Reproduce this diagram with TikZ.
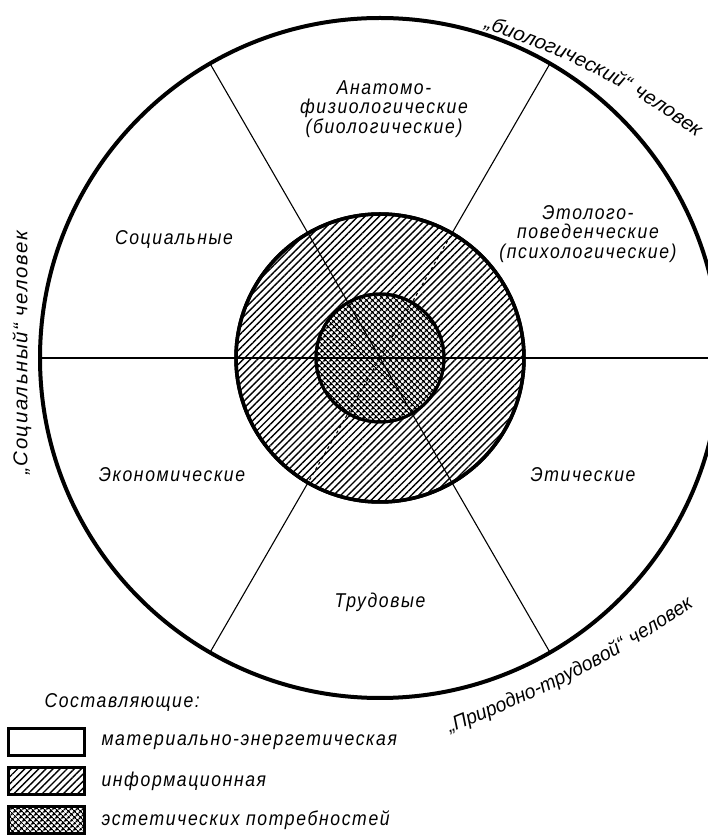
\documentclass[tikz,border=0pt]{standalone}
\usepackage{fontspec}
\setmainfont{Liberation Sans}
\newfontfamily\gostfont{Liberation Sans}[LetterSpace=8, FakeStretch=0.88]
\newfontfamily\gostwide{Liberation Sans}[LetterSpace=8, FakeStretch=1.02]
\newfontfamily\gostmid{Liberation Sans}[LetterSpace=8, FakeStretch=0.96]
\newcommand{\lblfont}{\gostfont\itshape\fontsize{20}{19.5}\selectfont}
\newcommand{\arcfont}{\gostwide\itshape\fontsize{20}{19.5}\selectfont}
\newcommand{\arcfontb}{\gostmid\itshape\fontsize{20}{19.5}\selectfont}
\usetikzlibrary{positioning, patterns.meta, decorations.text}

\begin{document}
\begin{tikzpicture}[
  x=1pt, y=1pt,
  every node/.style={font=\lblfont, align=center},
  ring/.style={circle, draw, inner sep=0pt, outer sep=0pt},
  spoke/.style={line width=1.1pt},
  hatchfill/.style={pattern={Lines[angle=45, distance=5pt, line width=1.4pt]}},
  crossfill/.style={pattern={Hatch[angle=45, distance=4pt, line width=1.5pt]}},
  legbox/.style={draw, line width=3pt, minimum width=76pt, minimum height=27pt, inner sep=0pt},
  arclabel/.style={decorate, decoration={text along path, text align=left}}
]
\useasboundingbox (0,0) rectangle (708,836);

% Circles
\coordinate (c) at (380,478);
\node[ring, line width=4pt, minimum size=680pt] (outer) at (c) {};
\node[ring, hatchfill, line width=3.5pt, minimum size=288pt] (mid) at (c) {};
\node[ring, preaction={fill=white}, crossfill, line width=3pt, minimum size=128pt] (inner) at (c) {};

% Spokes
\foreach \a in {0,120,180,300}
  \draw[spoke] (c) -- (outer.\a);
\foreach \a in {60,240} {
  \draw[spoke] (mid.\a) -- (outer.\a);
  \draw[spoke, dashed] (c) -- (mid.\a);
}
\draw[line width=3.5pt] (mid) circle (144);
\draw[line width=3pt] (inner) circle (64);

% Sectors
\node (anat) at (384,727) {Анатомо-\\физиологические\\(биологические)};
\node (soc) at (174,596) {Социальные};
\node (etol) at (588,602) {Этолого-\\поведенческие\\(психологические)};
\node (econ) at (172,361) {Экономические};
\node (etic) at (583,361) {Этические};
\node (trud) at (380,234) {Трудовые};

% Outer labels
\path[arclabel, decoration={text={|\arcfont|„биологический“ человек}}]
  (484,808) to[bend left=10] (740,664);
\path[arclabel, decoration={text={|\arcfontb|„Природно-трудовой“ человек}}]
  (450,103) to[bend right=7] (740,262);
\node[rotate=90, font=\arcfont] (human) at (22,483) {„Социальный“ человек};

% Legend
\node[anchor=west] (comp) at (41,133) {Составляющие:};
\node[legbox] (b1) at (46.5,94) {};
\node[legbox, hatchfill] (b2) at (46.5,55) {};
\node[legbox, crossfill] (b3) at (46.5,16) {};
\node[right=12pt of b1] (l1) {материально-энергетическая};
\node[right=12pt of b2] (l2) {информационная};
\node[right=12pt of b3] (l3) {эстетических потребностей};

\end{tikzpicture}
\end{document}
